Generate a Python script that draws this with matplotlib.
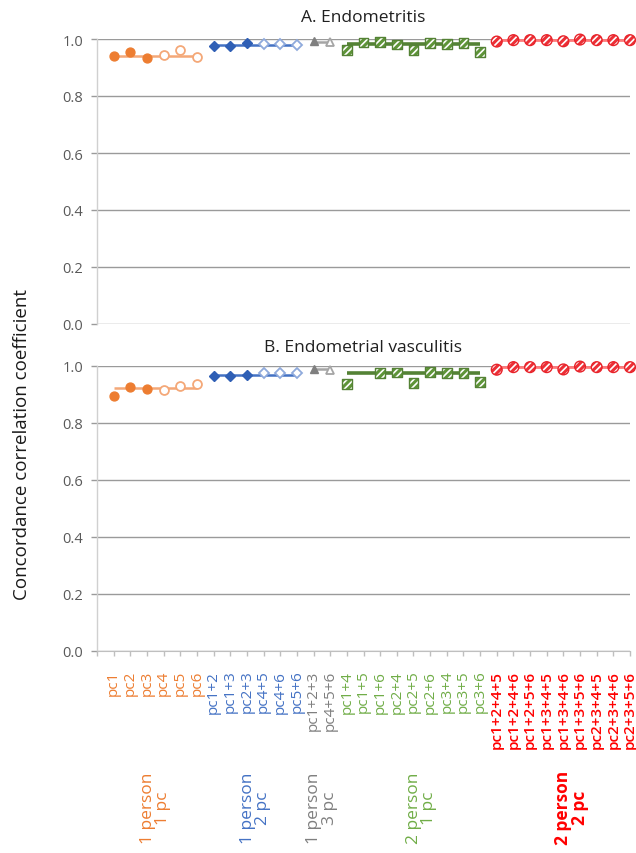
import numpy as np
import matplotlib
matplotlib.use("Agg")
import matplotlib.pyplot as plt

plt.rcParams['font.family'] = ['Open Sans', 'DejaVu Sans']
plt.rcParams['hatch.linewidth'] = 1.2

# ---------------- data ----------------
orange_labels = ['pc1', 'pc2', 'pc3', 'pc4', 'pc5', 'pc6']
blue_labels = ['pc1+2', 'pc1+3', 'pc2+3', 'pc4+5', 'pc4+6', 'pc5+6']
gray_labels = ['pc1+2+3', 'pc4+5+6']
green_labels = ['pc1+4', 'pc1+5', 'pc1+6', 'pc2+4', 'pc2+5', 'pc2+6',
                'pc3+4', 'pc3+5', 'pc3+6']
red_labels = ['pc1+2+4+5', 'pc1+2+4+6', 'pc1+2+5+6', 'pc1+3+4+5', 'pc1+3+4+6',
              'pc1+3+5+6', 'pc2+3+4+5', 'pc2+3+4+6', 'pc2+3+5+6']

group_names = ['1 person\n1 pc', '1 person\n2 pc', '1 person\n3 pc',
               '2 person\n1 pc', '2 person\n2 pc']
group_label_pos = [3.5, 9.5, 13.5, 19.5, 28.5]

# Panel A: Endometritis
orange_A = [0.939, 0.953, 0.932, 0.945, 0.961, 0.938]
blue_A = [0.977, 0.977, 0.985, 0.981, 0.981, 0.978]
gray_A = [0.992, 0.988]
green_A = [0.962, 0.988, 0.990, 0.981, 0.962, 0.985, 0.983, 0.985, 0.953]
red_A = [0.991, 0.996, 0.996, 0.996, 0.992, 0.998, 0.996, 0.996, 0.996]
mean_A = [0.941, 0.979, 0.990, 0.981, 0.995]

# Panel B: Endometrial vasculitis
orange_B = [0.896, 0.926, 0.921, 0.917, 0.930, 0.936]
blue_B = [0.965, 0.965, 0.970, 0.974, 0.974, 0.974]
gray_B = [0.990, 0.986]
green_B = [0.937, np.nan, 0.976, 0.977, 0.940, 0.978, 0.976, 0.976, 0.945]
red_B = [0.987, 0.996, 0.996, 0.996, 0.988, 0.998, 0.996, 0.996, 0.996]
mean_B = [0.924, 0.970, 0.990, 0.975, 0.995]

yticks = [0.0, 0.2, 0.4, 0.6, 0.8, 1.0]

# ---------------- styling ----------------
C_OR = '#ED7D31'
C_OR_L = '#F4A878'
C_BL = '#4472C4'
C_BL_D = '#2F5FB5'
C_BL_L = '#8FAADC'
C_GR = '#7F7F7F'
C_GR_L = '#A5A5A5'
C_GN = '#548235'
C_GN_T = '#70AD47'
C_RD = '#FF0000'
C_RD_L = '#FF7B7B'
GRID = '#9A9A9A'

all_labels = orange_labels + blue_labels + gray_labels + green_labels + red_labels
label_colors = ([C_OR] * len(orange_labels) + [C_BL] * len(blue_labels) +
                [C_GR] * len(gray_labels) + [C_GN_T] * len(green_labels) +
                [C_RD] * len(red_labels))
group_colors = [C_OR, C_BL, C_GR, C_GN_T, C_RD]

fig = plt.figure(figsize=(6.36, 8.54), dpi=100)
W, H = 636.0, 854.0
ax1 = fig.add_axes([97 / W, 1 - 325 / H, 533 / W, 285 / H])
ax2 = fig.add_axes([97 / W, 1 - 652 / H, 533 / W, 285 / H])


def positions(start, n):
    return np.arange(start, start + n)


def hatched(ax, x, y, marker, s, fill, edge):
    ax.scatter(x, y, marker=marker, s=s, facecolor=fill, edgecolor='white',
               hatch='/////', linewidth=0, zorder=5, clip_on=False)
    ax.scatter(x, y, marker=marker, s=s, facecolor='none', edgecolor=edge,
               linewidth=1.0, zorder=6, clip_on=False)


def draw_panel(ax, o, b, g, gn, r, means, title, title_y):
    groups = [o, b, g, gn, r]
    starts = [1]
    for grp in groups[:-1]:
        starts.append(starts[-1] + len(grp))
    xs = [positions(s, len(grp)) for s, grp in zip(starts, groups)]

    # mean lines
    line_cols = [C_OR_L, C_BL, C_GR_L, C_GN, C_RD_L]
    line_w = [1.8, 1.8, 1.8, 2.6, 2.0]
    for x, m, c, lw in zip(xs, means, line_cols, line_w):
        ax.plot([x[0], x[-1]], [m, m], color=c, lw=lw, zorder=3,
                solid_capstyle='butt', clip_on=False)

    # orange circles
    x = xs[0]
    ax.plot(x[:3], o[:3], 'o', ms=6.4, mfc=C_OR, mec=C_OR, zorder=4, clip_on=False)
    ax.plot(x[3:], o[3:], 'o', ms=6.4, mfc='white', mec=C_OR_L, mew=1.3,
            zorder=4, clip_on=False)
    # blue diamonds
    x = xs[1]
    ax.plot(x[:3], b[:3], 'D', ms=5.2, mfc=C_BL_D, mec=C_BL_D, zorder=4, clip_on=False)
    ax.plot(x[3:], b[3:], 'D', ms=5.2, mfc='white', mec=C_BL_L, mew=1.3,
            zorder=4, clip_on=False)
    # gray triangles
    x = xs[2]
    ax.plot(x[:1], g[:1], '^', ms=6.2, mfc=C_GR, mec=C_GR, zorder=4, clip_on=False)
    ax.plot(x[1:], g[1:], '^', ms=6.2, mfc='white', mec=C_GR_L, mew=1.3,
            zorder=4, clip_on=False)
    # green hatched squares
    hatched(ax, xs[3], gn, 's', 50, '#5E9438', C_GN)
    # red hatched circles
    hatched(ax, xs[4], r, 'o', 60, '#EC2F36', '#E8232A')

    ax.set_xlim(0, len(all_labels))
    ax.set_ylim(0, 1.0)
    ax.set_yticks(yticks)
    ax.set_yticklabels([f'{v:.1f}' for v in yticks])
    ax.tick_params(axis='y', length=4, width=1, color=GRID, labelsize=10.5,
                   labelcolor='#595959', pad=6)
    ax.grid(axis='y', color=GRID, lw=1.0, zorder=1)
    ax.set_axisbelow(True)
    for s in ['top', 'right']:
        ax.spines[s].set_visible(False)
    ax.spines['left'].set_color('#D0D0D0')
    ax.spines['left'].set_linewidth(1.0)
    ax.spines['bottom'].set_color(GRID)
    ax.text(0.5, title_y, title, transform=ax.transAxes, ha='center',
            va='center', fontsize=12.5, color='#202020')


draw_panel(ax1, orange_A, blue_A, gray_A, green_A, red_A, mean_A,
           'A. Endometritis', 1.078)
draw_panel(ax2, orange_B, blue_B, gray_B, green_B, red_B, mean_B,
           'B. Endometrial vasculitis', 1.067)

# top panel: no x ticks
ax1.set_xticks([])
ax1.spines['bottom'].set_visible(False)

# bottom panel x axis
ax2.set_xticks(np.arange(0, len(all_labels) + 1))
ax2.set_xticklabels([''] + all_labels, rotation=90)
ax2.tick_params(axis='x', length=3.5, width=1, color='#BFBFBF', labelsize=11, pad=10)
ax2.spines['bottom'].set_color('#BFBFBF')
for lab, c in zip(ax2.get_xticklabels()[1:], label_colors):
    lab.set_color(c)
    if c == C_RD:
        lab.set_fontweight('semibold')

# group labels
for name, pos, c in zip(group_names, group_label_pos, group_colors):
    t = ax2.text(pos, 0, name, transform=ax2.get_xaxis_transform(), ha='center',
                 va='center', rotation=90, color=c, fontsize=12.5, linespacing=0.95,
                 fontweight='bold' if c == C_RD else 'normal')
    t.set_y(-(808 - 652) / 285.0)

fig.text(22 / W, 1 - 445 / H, 'Concordance correlation coefficient',
         rotation=90, ha='center', va='center', fontsize=13.5, color='#1a1a1a')

fig.savefig('out.png', dpi=100)
